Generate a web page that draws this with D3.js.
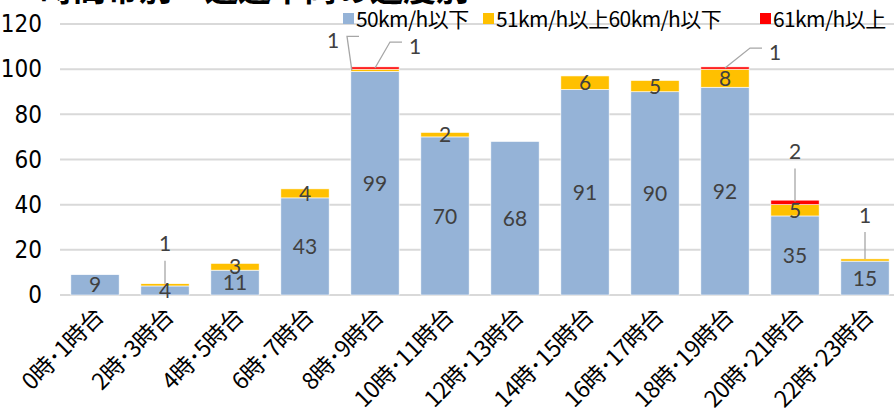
<!DOCTYPE html>
<html>
<head>
<meta charset="utf-8">
<script src="https://cdn.jsdelivr.net/npm/d3@7"></script>
<style>
  body { margin: 0; background: #fff; }
  svg { display: block; }
</style>
</head>
<body>
<svg width="894" height="415"></svg>
<script>
const svg = d3.select("svg");

// data
const categories = ["0時･1時台", "2時･3時台", "4時･5時台", "6時･7時台", "8時･9時台", "10時･11時台",
  "12時･13時台", "14時･15時台", "16時･17時台", "18時･19時台", "20時･21時台", "22時･23時台"];
const seriesNames = ["50km/h以下", "51km/h以上60km/h以下", "61km/h以上"];
const under50 = [9, 4, 11, 43, 99, 70, 68, 91, 90, 92, 35, 15];
const from51to60 = [0, 1, 3, 4, 1, 2, 0, 6, 5, 8, 5, 1];
const over61 = [0, 0, 0, 0, 1, 0, 0, 0, 0, 1, 2, 0];
const yTicks = [0, 20, 40, 60, 80, 100, 120];
const colors = ["#95B3D7", "#FFC000", "#FF0000"];

// small segments labelled outside with a leader line: [category index, series index, label dx, label dy, elbow]
const callouts = [
  [1, 1, 0, -40, false],
  [4, 1, -42, -30, true],
  [4, 2, 40, -22, true],
  [9, 2, 50, -16, true],
  [10, 2, 0, -50, false],
  [11, 1, 0, -44, false]
];

const table = categories.map((c, i) => ({ cat: c, s0: under50[i], s1: from51to60[i], s2: over61[i] }));
const stacked = d3.stack().keys(["s0", "s1", "s2"])(table);

const x = d3.scaleBand().domain(categories).range([60, 900]).paddingInner(0.31).paddingOuter(0.155);
const y = d3.scaleLinear().domain([0, 120]).range([295, 24]);

// title (cut off at the top of the picture)
svg.append("text")
  .attr("x", 40)
  .attr("y", 1)
  .attr("font-family", "Noto Sans CJK JP")
  .attr("font-weight", "bold")
  .attr("font-size", 33)
  .attr("fill", "#000")
  .text("時間帯別・通過車両の速度別");

// grid
svg.append("g")
  .selectAll("line")
  .data(yTicks)
  .enter()
  .append("line")
  .attr("x1", 60)
  .attr("x2", 894)
  .attr("y1", d => y(d))
  .attr("y2", d => y(d))
  .attr("stroke", "#D9D9D9")
  .attr("stroke-width", 2);

// y axis labels
const yAxis = svg.append("g")
  .attr("transform", "translate(44,0)")
  .call(d3.axisLeft(y).tickValues(yTicks).tickSize(0).tickPadding(2));
yAxis.select(".domain").remove();
yAxis.selectAll("text")
  .attr("font-family", "Liberation Sans Narrow, DejaVu Sans Condensed, sans-serif")
  .attr("font-size", 24)
  .attr("fill", "#000");

// bars
svg.append("g")
  .selectAll("g")
  .data(stacked)
  .enter()
  .append("g")
  .attr("fill", (d, i) => colors[i])
  .selectAll("rect")
  .data(d => d)
  .enter()
  .append("rect")
  .attr("x", d => x(d.data.cat))
  .attr("width", x.bandwidth())
  .attr("y", d => y(d[1]))
  .attr("height", d => y(d[0]) - y(d[1]))
  .attr("stroke", "#fff")
  .attr("stroke-width", 0.6);

// value labels inside segments
const isCallout = (ci, si) => callouts.some(c => c[0] === ci && c[1] === si);
const labelFont = "Lato, Open Sans, sans-serif";
stacked.forEach((layer, si) => {
  layer.forEach((d, ci) => {
    const v = d[1] - d[0];
    if (v <= 0 || isCallout(ci, si)) return;
    svg.append("text")
      .attr("x", x(d.data.cat) + x.bandwidth() / 2)
      .attr("y", (y(d[0]) + y(d[1])) / 2)
      .attr("dy", "0.36em")
      .attr("text-anchor", "middle")
      .attr("font-family", labelFont)
      .attr("font-size", 21)
      .attr("fill", "#404040")
      .text(v);
  });
});

// callout labels
callouts.forEach(([ci, si, dx, dy, elbow]) => {
  const d = stacked[si][ci];
  const v = d[1] - d[0];
  const cx = x(d.data.cat) + x.bandwidth() / 2;
  const anchorX = elbow ? (dx < 0 ? x(d.data.cat) + 1 : cx) : cx;
  const anchorY = (y(d[0]) + y(d[1])) / 2 + (elbow ? 0 : -1);
  const lx = cx + dx;
  const ly = anchorY + dy;
  let pts;
  if (elbow) {
    const ex = dx < 0 ? lx + 14 : lx - 25;
    const hx = dx < 0 ? lx + 26 : lx - 13;
    pts = [[anchorX, anchorY], [ex, ly - 4], [hx, ly - 4]];
  } else {
    pts = [[anchorX, anchorY], [anchorX, ly + 17]];
  }
  svg.append("path")
    .attr("d", d3.line()(pts))
    .attr("fill", "none")
    .attr("stroke", "#A6A6A6")
    .attr("stroke-width", 1.3);
  svg.append("text")
    .attr("x", lx)
    .attr("y", ly)
    .attr("dy", "0.36em")
    .attr("text-anchor", "middle")
    .attr("font-family", labelFont)
    .attr("font-size", 21)
    .attr("fill", "#404040")
    .text(v);
});

// x axis labels
svg.append("g")
  .selectAll("text")
  .data(categories)
  .enter()
  .append("text")
  .attr("transform", d => `translate(${x(d) + x.bandwidth() / 2 + 10},${318}) rotate(-45)`)
  .attr("text-anchor", "end")
  .attr("font-family", "Noto Sans CJK JP")
  .attr("font-size", 23)
  .attr("letter-spacing", -0.4)
  .attr("fill", "#000")
  .text(d => d);

// legend
const legend = svg.append("g").attr("transform", "translate(0,19)");
const legendX = [343, 483, 760];
seriesNames.forEach((name, i) => {
  legend.append("rect")
    .attr("x", legendX[i])
    .attr("y", -6)
    .attr("width", 11)
    .attr("height", 11)
    .attr("fill", colors[i]);
  legend.append("text")
    .attr("x", legendX[i] + 13)
    .attr("y", 0)
    .attr("dy", "0.36em")
    .attr("font-family", "Noto Sans CJK JP")
    .attr("font-size", 21)
    .attr("letter-spacing", -0.6)
    .attr("fill", "#000")
    .text(name);
});
</script>
</body>
</html>
